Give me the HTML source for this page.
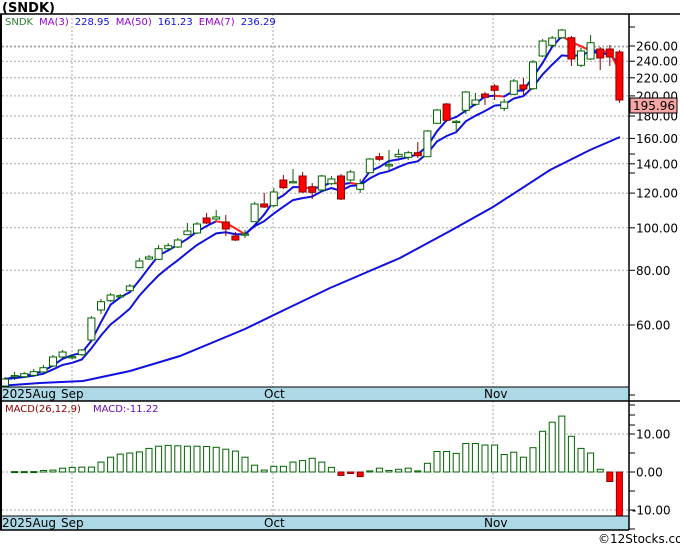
<!DOCTYPE html>
<html><head><meta charset="utf-8"><style>
html,body{margin:0;padding:0;background:#fff;}
svg{display:block;font-family:"DejaVu Sans","Liberation Sans",sans-serif;}
</style></head><body>
<svg id="s" width="680" height="546" viewBox="0 0 680 546" xmlns="http://www.w3.org/2000/svg"></svg>
<script>
var S=document.getElementById('s');var h='';
function Y(p){return 46+(Math.log(260)-Math.log(p))*190.3;}
function P(y){return Math.exp(Math.log(260)-(y-46)/190.3);}
function X(i){return 5+9.6*i;}
// grid main
var lv=[260,240,220,200,180,160,140,120,100,80,60];
lv.forEach(function(v){var y=Y(v).toFixed(1);
h+='<line x1="2" x2="629" y1="'+y+'" y2="'+y+'" stroke="#aaa" stroke-dasharray="2,2"/>';
h+='<line x1="629" x2="635" y1="'+y+'" y2="'+y+'" stroke="#000"/>';
h+='<text x="636" y="'+(+y+4.5)+'" font-size="12" fill="#000">'+v.toFixed(2)+'</text>';});
[72,273,493].forEach(function(x){h+='<line x1="'+x+'" x2="'+x+'" y1="14" y2="387" stroke="#aaa" stroke-dasharray="2,2"/>';
h+='<line x1="'+x+'" x2="'+x+'" y1="401" y2="516" stroke="#aaa" stroke-dasharray="2,2"/>';});
h+='<line x1="2" x2="629" y1="47" y2="47" stroke="#aaa" stroke-dasharray="2,2"/>';
// candles: [open,close,high,low] in y px
var C=[[386,379,377,386],[375.6,375.6,372,380],[376.7,373.7,372,378],[375.3,371.7,369,376],[372,367.7,365,373],[366,357,355,367],[357,352,350,358],[356.7,356.7,354,359],[354.7,350,349,356],[340,318,316,341],[310,301.7,299,314],[300.7,295,293,302],[295.7,295.7,294,297],[290.7,286,284,291],[267.7,261,258,268],[259,257,255,260],[259.3,248.7,245,260],[248.7,245.7,243,250],[247,240,238,248],[234.7,231,223,235],[233,224,222,234],[218,223,213,224],[219,217,210,220],[222,229,215,236],[236,240,232,241],[234,234,230,238],[221.7,204,202,222],[204,207,193,208],[205.7,192,188,207],
[180,187.7,175,189],[181.7,181.7,169,183],[176,192,172,193],[186.7,192.3,183,199],[190,176,175,192],[183.7,179,176,185],[176,199,174,200],[180,172,170,182],[189.3,183.7,179,193],[172.7,159,158,173],[156.7,159.3,153,161],[166,164.7,150,170],[156.7,154.3,149,158],[157.3,152.7,151,160],[152.7,155.7,142,158],[156.7,131,130,157],[123.3,110,109,124],[104,120.3,103,122],[121.3,121.3,120,132],[110.3,92,91,114],[104.3,100,93,106],[94,97.3,92,105],[86,90.3,84,100],[108.3,102,99,111],[94.3,81,79,95],[85,89,78,95],[88.7,62,60,90],[56,41,39,57],[45.3,38,36,47],[37.7,30,29,39],[37.7,59,36,66],[65.3,51,48,67],[59,42.7,35,60],[49,58,47,70],[49,57,45,66],[52,100,50,103]];
// MA50
h+='<polyline fill="none" stroke="#1010e0" stroke-width="2" points="2,385.7 40,383 83,381 130,371 180,356 245,329 280,312 330,288 400,258 450,231 493,207 550,170 590,150 620,137"/>';
// compute closes
var cl=C.map(function(c){return P(c[1]);});
var ema=[],e=cl[0];cl.forEach(function(c,i){e=i==0?c:e+(c-e)*2/8;ema.push(e);});
var ep=ema.map(function(v,i){return X(i).toFixed(1)+','+Y(v).toFixed(1);}).join(' ');
h+='<polyline fill="none" stroke="#1010e0" stroke-width="2" points="'+ep+'"/>';
var ma=cl.map(function(c,i){var a=cl.slice(Math.max(0,i-2),i+1);return a.reduce(function(s,v){return s+v},0)/a.length;});
for(var i=1;i<ma.length;i++){var col=ma[i]<ma[i-1]?'#ff2020':'#1010e0';
h+='<line x1="'+X(i-1)+'" y1="'+Y(ma[i-1]).toFixed(1)+'" x2="'+X(i)+'" y2="'+Y(ma[i]).toFixed(1)+'" stroke="'+col+'" stroke-width="2" stroke-linecap="round"/>';}
C.forEach(function(c,i){var x=X(i),up=c[1]<=c[0],top=Math.min(c[0],c[1]),bot=Math.max(c[0],c[1]);
var col=up?'#006400':'#8b0000';
h+='<line x1="'+x+'" x2="'+x+'" y1="'+c[2]+'" y2="'+c[3]+'" stroke="'+col+'"/>';
var bh=Math.max(bot-top,1.2);
h+='<rect x="'+(x-3.5)+'" y="'+top+'" width="7" height="'+bh+'" fill="'+(up?'#fff':'#ff0000')+'" stroke="'+col+'" stroke-width="1"/>';});
// MACD
var M=[0.1,0.1,0.1,0.4,0.5,1,1.2,1.3,1.3,2.6,3.9,4.7,5,5.3,6.2,6.8,7,6.9,6.8,6.8,6.7,6.5,6,5.5,3.9,1.8,0.5,1.5,1.5,2.6,3,3.6,2.6,1.2,-0.9,-0.4,-1.2,0.3,1,0.4,0.7,1,0.3,2.3,5.4,5.4,4.9,7.5,7.5,7.1,7.1,4.6,5.2,3.9,6.4,10.7,13.1,14.7,9.4,6.2,5,0.7,-2.5,-11.5];
h+='<line x1="2" x2="629" y1="434" y2="434" stroke="#aaa" stroke-dasharray="2,2"/><line x1="2" x2="629" y1="472" y2="472" stroke="#aaa" stroke-dasharray="2,2"/><line x1="2" x2="629" y1="510" y2="510" stroke="#aaa" stroke-dasharray="2,2"/>';
var off=65-M.length;
M.forEach(function(v,k){var i=k+off,x=X(i);if(i==64)v=-12;var y=472-v*3.8;var t=Math.min(y,472),hh=Math.max(Math.abs(472-y),1);
if(i==64){t=472;hh=44;}
h+='<rect x="'+(x-3)+'" y="'+t.toFixed(1)+'" width="6" height="'+hh.toFixed(1)+'" fill="'+(v>=0?'#fff':'#ff0000')+'" stroke="'+(v>=0?'#006400':'#8b0000')+'"/>';});
[[10,434],[0,472],[-10,510]].forEach(function(a){h+='<text x="'+(a[0]<0?632:636)+'" y="'+(a[1]+4.5)+'" font-size="12">'+a[0].toFixed(2)+'</text>';h+='<line x1="629" x2="635" y1="'+a[1]+'" y2="'+a[1]+'" stroke="#000"/>';});
[415,453,491,529].forEach(function(y){h+='<line x1="629" x2="635" y1="'+y+'" y2="'+y+'" stroke="#000"/>';});
[27,154,173,395,405,425].forEach(function(y){h+='<line x1="629" x2="635" y1="'+y+'" y2="'+y+'" stroke="#000"/>';});
// bands
h+='<rect x="2" y="387" width="627" height="14" fill="#add8e6"/><rect x="2" y="516" width="627" height="14" fill="#add8e6"/>';
h+='<line x1="0" x2="680" y1="401" y2="401" stroke="#000" stroke-width="1.5"/><line x1="0" x2="629" y1="387" y2="387" stroke="#000"/><line x1="0" x2="629" y1="516" y2="516" stroke="#000"/><line x1="0" x2="629" y1="530" y2="530" stroke="#000" stroke-width="1.5"/>';
['2025Aug',"Sep","Oct","Nov"].forEach(function(t,k){var x=[2,61,264,484][k];h+='<text x="'+x+'" y="398" font-size="12" fill="#000">'+t+'</text><text x="'+x+'" y="527" font-size="12" fill="#000">'+t+'</text>';});
// frame
h+='<line x1="0" x2="680" y1="14" y2="14" stroke="#000" stroke-width="1.5"/><line x1="1" x2="1" y1="14" y2="530" stroke="#000" stroke-width="2"/><line x1="629" x2="629" y1="14" y2="530" stroke="#000" stroke-width="1.5"/>';
// price label
h+='<rect x="630" y="98" width="47" height="15" fill="#f7a5a5" stroke="#000"/><text x="633" y="110" font-size="12">195.96</text>';
h+='<text x="2" y="12" font-size="13" font-weight="bold">(SNDK)</text>';
h+='<text x="5" y="25" font-size="10"><tspan fill="#2e7d32">SNDK</tspan><tspan fill="#9400d3" dx="6">MA(3)</tspan><tspan fill="#1010e0" dx="6">228.95</tspan><tspan fill="#9400d3" dx="6">MA(50)</tspan><tspan fill="#1010e0" dx="6">161.23</tspan><tspan fill="#9400d3" dx="6">EMA(7)</tspan><tspan fill="#1010e0" dx="6">236.29</tspan></text>';
h+='<text x="5" y="412" font-size="10"><tspan fill="#8b0000">MACD(26,12,9)</tspan><tspan fill="#6a0dad" dx="12">MACD:-11.22</tspan></text>';
h+='<text x="598" y="543" font-size="12">©12Stocks.com</text>';
S.innerHTML=h;
</script>
</body></html>
